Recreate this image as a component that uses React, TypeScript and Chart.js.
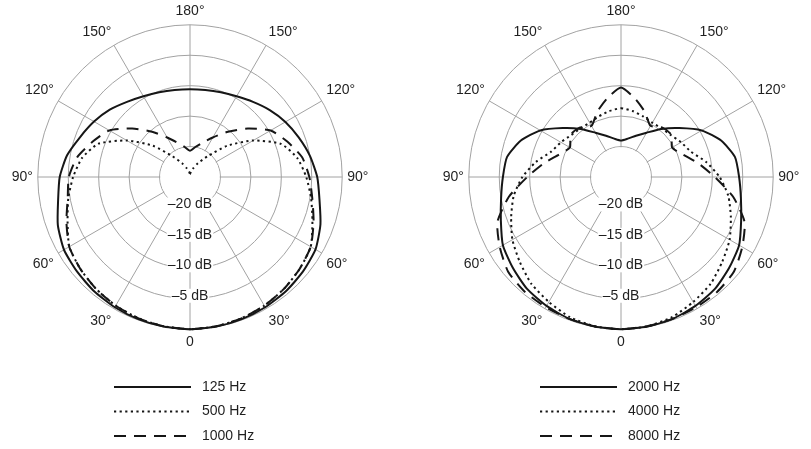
import { useEffect, useRef } from 'react'
import { Chart, registerables } from 'chart.js'

Chart.register(...registerables)

// polar angle of each spoke, clockwise from the top of the plot (180° at top, 0 at bottom)
const angles = [
  180, 170, 160, 150, 140, 130, 120, 110, 100, 90, 80, 70, 60, 50, 40, 30, 20, 10,
  0, 10, 20, 30, 40, 50, 60, 70, 80, 90, 100, 110, 120, 130, 140, 150, 160, 170,
]

// dB rings that get a label under the centre
const dbTicks = [-20, -15, -10, -5]

const lowLabels = ['125 Hz', '500 Hz', '1000 Hz']
const highLabels = ['2000 Hz', '4000 Hz', '8000 Hz']

// response in dB, one value per spoke in `angles`
const hz125 = [
  -10.6, -10.5, -10.2, -9.7, -8.9, -7.9, -6.9, -6.0, -5.0, -4.1, -3.4, -2.2, -1.2, -0.8, -0.5, -0.3, -0.15, -0.05,
  0, -0.05, -0.15, -0.3, -0.5, -0.8, -1.1, -1.9, -3.0, -3.6, -4.5, -5.8, -6.8, -7.8, -8.9, -9.7, -10.2, -10.5,
]
const hz500 = [
  -24.5, -24.1, -23.5, -22.4, -20.6, -17.0, -13.0, -9.1, -7.1, -5.9, -4.8, -3.6, -2.1, -1.5, -1.0, -0.6, -0.3, -0.1,
  0, -0.1, -0.3, -0.6, -1.0, -1.5, -2.1, -3.6, -4.7, -5.8, -7.0, -9.0, -13.0, -17.0, -20.6, -22.4, -23.5, -24.1,
]
const hz1000 = [
  -20.7, -20.0, -19.0, -17.5, -15.3, -12.6, -9.7, -8.0, -6.3, -5.4, -4.6, -3.4, -2.1, -1.5, -1.0, -0.6, -0.3, -0.1,
  0, -0.1, -0.3, -0.6, -1.0, -1.5, -2.1, -3.4, -4.6, -5.1, -6.2, -8.0, -9.7, -12.6, -15.3, -17.5, -19.0, -20.0,
]
const hz2000 = [
  -19.0, -18.6, -17.8, -16.6, -14.7, -12.5, -9.7, -7.5, -6.0, -5.6, -5.0, -4.0, -2.6, -1.8, -1.0, -0.55, -0.2, -0.05,
  0, -0.05, -0.2, -0.55, -1.0, -1.8, -2.6, -4.0, -5.0, -5.6, -6.0, -7.5, -9.7, -12.5, -14.7, -16.6, -17.8, -18.6,
]
const hz4000 = [
  -13.7, -14.0, -14.4, -14.7, -14.6, -14.3, -13.6, -12.8, -10.8, -8.8, -7.1, -5.8, -4.4, -3.3, -2.1, -1.3, -0.5, -0.1,
  0, -0.1, -0.5, -1.3, -2.1, -3.3, -4.4, -5.8, -7.1, -8.8, -10.8, -12.8, -13.6, -14.3, -14.6, -14.7, -14.4, -14.0,
]
const hz8000 = [
  -10.3, -11.9, -13.6, -15.3, -14.4, -14.2, -15.3, -14.2, -12.1, -9.6, -6.3, -3.4, -2.0, -0.8, -0.4, -0.3, -0.2, -0.1,
  0, -0.1, -0.2, -0.3, -0.4, -0.8, -2.0, -3.4, -6.3, -9.6, -12.1, -14.2, -15.3, -14.2, -14.4, -15.3, -13.6, -11.9,
]

const FONT = '"Liberation Sans", Arial, Helvetica, sans-serif'
const INK = '#161616'
const TEXT = '#1f1f1f'
const GRID = '#a2a2a2'

// solid, dotted, dashed
const dashes = [[], [2.2, 3.4], [12, 8]]

/** Blanks the middle disc, writes the dB labels and a stacked line legend. */
const polarDecor = {
  id: 'polarDecor',
  beforeDatasetsDraw(chart: any) {
    const r = chart.scales.r
    const ctx: CanvasRenderingContext2D = chart.ctx
    const cx = r.xCenter
    const cy = r.yCenter
    ctx.save()
    ctx.fillStyle = '#fff'
    ctx.beginPath()
    ctx.arc(cx, cy, r.getDistanceFromCenterForValue(-20) - 0.7, 0, Math.PI * 2)
    ctx.fill()
    ctx.font = `14px ${FONT}`
    ctx.textAlign = 'center'
    ctx.textBaseline = 'middle'
    dbTicks.forEach((v) => {
      const y = cy + r.getDistanceFromCenterForValue(v) - 3
      const text = '\u2013' + Math.abs(v) + ' dB'
      const w = ctx.measureText(text).width
      ctx.fillStyle = '#fff'
      ctx.fillRect(cx - w / 2 - 1, y - 7, w + 2, 14)
      ctx.fillStyle = TEXT
      ctx.fillText(text, cx, y)
    })
    ctx.restore()
  },
  afterDraw(chart: any, _args: any, opts: any) {
    const ctx: CanvasRenderingContext2D = chart.ctx
    const x0 = opts.legendX
    chart.data.datasets.forEach((ds: any, i: number) => {
      const y = 387 + i * 24.5
      ctx.save()
      ctx.strokeStyle = ds.borderColor
      ctx.lineWidth = ds.borderWidth
      ctx.setLineDash(ds.borderDash || [])
      ctx.beginPath()
      ctx.moveTo(x0, y)
      ctx.lineTo(x0 + 77, y)
      ctx.stroke()
      ctx.setLineDash([])
      ctx.fillStyle = TEXT
      ctx.font = `14px ${FONT}`
      ctx.textAlign = 'left'
      ctx.textBaseline = 'middle'
      ctx.fillText(ds.label, x0 + 88, y)
      ctx.restore()
    })
  },
}

interface PolarPlotProps {
  labels: string[]
  series: number[][]
  left: number
  legendX: number
}

function PolarPlot({ labels, series, left, legendX }: PolarPlotProps) {
  const canvasRef = useRef<HTMLCanvasElement>(null)
  const chartRef = useRef<Chart | null>(null)

  useEffect(() => {
    if (!canvasRef.current) return
    const ctx = canvasRef.current.getContext('2d')
    if (!ctx) return

    if (chartRef.current) {
      chartRef.current.destroy()
      chartRef.current = null
    }

    chartRef.current = new Chart(ctx, {
      type: 'radar',
      data: {
        labels: angles.map((a) => String(a)),
        datasets: series.map((values, i) => ({
          label: labels[i],
          data: values,
          borderColor: INK,
          borderWidth: 2,
          borderDash: dashes[i],
          fill: false,
          pointRadius: 0,
          tension: 0.2,
        })),
      },
      options: {
        responsive: true,
        maintainAspectRatio: false,
        animation: false,
        layout: { padding: { top: 4, bottom: 97, left: 0, right: 0 } },
        plugins: {
          legend: { display: false },
          tooltip: { enabled: false },
          polarDecor: { legendX },
        } as any,
        scales: {
          r: {
            min: -25,
            max: 0,
            startAngle: 0,
            ticks: { stepSize: 5, display: false },
            grid: { circular: true, color: GRID, lineWidth: 1 },
            angleLines: {
              color: GRID,
              lineWidth: (c: any) => (angles[c.index] % 30 === 0 ? 1 : 0),
            },
            pointLabels: {
              color: TEXT,
              padding: 5,
              font: { family: FONT, size: 14 },
              callback: (_label: string, index: number) => {
                const a = angles[index]
                if (a % 30 !== 0) return ''
                return a === 0 ? '0' : `${a}°`
              },
            },
          },
        },
      },
      plugins: [polarDecor],
    })

    return () => {
      if (chartRef.current) {
        chartRef.current.destroy()
        chartRef.current = null
      }
    }
  }, [labels, series, legendX])

  return (
    <div style={{ position: 'absolute', left, top: 0, width: 380, height: 449 }}>
      <canvas ref={canvasRef} />
    </div>
  )
}

export default function App() {
  return (
    <div
      style={{
        position: 'fixed',
        left: 0,
        top: 0,
        width: 811,
        height: 449,
        background: '#fff',
        overflow: 'hidden',
      }}
    >
      <PolarPlot labels={lowLabels} series={[hz125, hz500, hz1000]} left={0} legendX={114} />
      <PolarPlot labels={highLabels} series={[hz2000, hz4000, hz8000]} left={431} legendX={109} />
    </div>
  )
}
